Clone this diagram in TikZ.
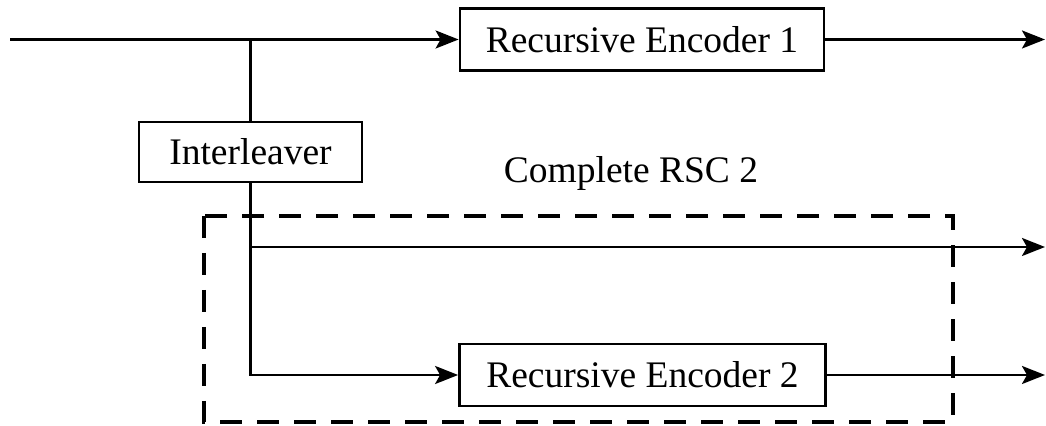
\documentclass[tikz,border=0pt]{standalone}
\usepackage{fontspec}
\setmainfont{Liberation Serif}
\usetikzlibrary{arrows.meta}
\begin{document}
\begin{tikzpicture}[x=0.5pt,y=-0.5pt,
  every node/.style={font=\fontsize{18.75}{22}\selectfont},
  block/.style={draw,line width=1.4pt,inner sep=0pt,minimum height=31pt},
  wire/.style={line width=1.25pt},
  flow/.style={wire,-{Stealth[length=11.5pt,width=9pt,inset=2.5pt]}},
  group/.style={line width=1.6pt,dash pattern=on 11pt off 7.5pt}]
  \useasboundingbox (0,0) rectangle (1046,426);

  % blocks
  \node[block,minimum width=182pt] (enc1) at (642,39.5) {Recursive Encoder 1};
  \node[block,minimum width=111.5pt,minimum height=30pt] (il) at (250.5,152) {Interleaver};
  \node[block,minimum width=183pt] (enc2) at (642.5,375) {Recursive Encoder 2};
  \node[anchor=base] (lbl) at (631,183) {Complete RSC 2};

  % junction points and free ends
  \coordinate (in) at (10,39.5);
  \coordinate (split) at (250.5,39.5);
  \coordinate (tap) at (250.5,247);
  \coordinate (turn) at (250.5,375);
  \coordinate (out1) at (1045,39.5);
  \coordinate (out2) at (1045,247);
  \coordinate (out3) at (1045,375);

  % signal paths
  \draw[flow] (in) -- (enc1.west);
  \draw[flow] (enc1.east) -- (out1);
  \draw[wire] (split) -- (il.north);
  \draw[flow] (il.south) -- (turn) -- (enc2.west);
  \draw[flow] (tap) -- (out2);
  \draw[flow] (enc2.east) -- (out3);

  % second constituent encoder outline
  \draw[group] (204,216) rectangle (953,422);
\end{tikzpicture}
\end{document}
